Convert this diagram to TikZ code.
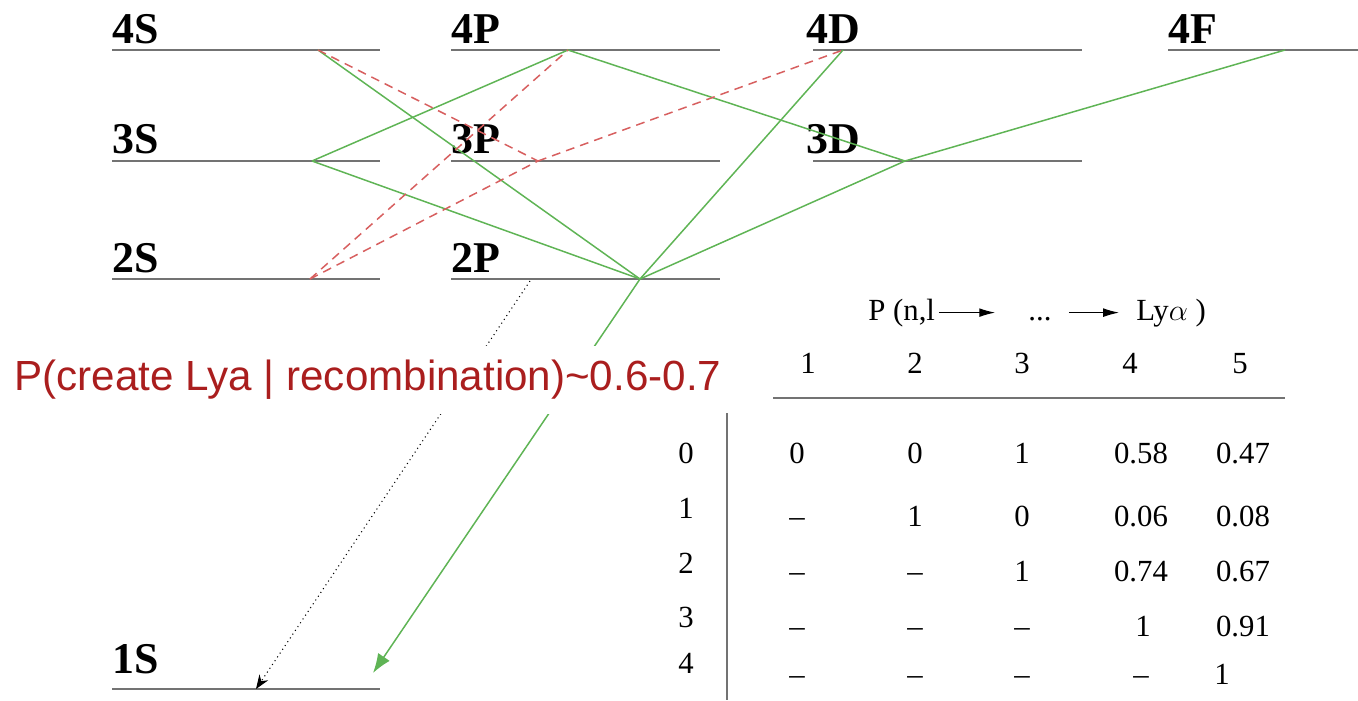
\documentclass[tikz,border=0pt]{standalone}
\usepackage{fontspec}
\setmainfont{Liberation Serif}
\newfontfamily\notefont{Liberation Sans}
\usetikzlibrary{arrows}
\usetikzlibrary{arrows.meta}
\definecolor{trgreen}{RGB}{95,180,85}
\definecolor{trred}{RGB}{215,95,95}
\definecolor{notered}{RGB}{170,30,30}
\definecolor{lvlgray}{RGB}{115,115,115}

\begin{document}
\begin{tikzpicture}[x=0.02cm,y=-0.02cm]
\tikzstyle{lvl}=[draw=lvlgray,line width=0.8pt]
\tikzstyle{term}=[font=\fontsize{25}{25}\selectfont\bfseries,anchor=base west,inner sep=0pt]
\tikzstyle{allowed}=[draw=trgreen,line width=0.85pt]
\tikzstyle{forbidden}=[draw=trred,line width=0.85pt,dash pattern=on 5pt off 3.5pt]
\tikzstyle{cell}=[font=\fontsize{17.5}{17.5}\selectfont,anchor=base,inner sep=0pt]
\useasboundingbox (0,0) rectangle (1358,700);

% energy levels
\draw[lvl] (112,50) -- (380,50);
\draw[lvl] (451,50) -- (720,50);
\draw[lvl] (813,50) -- (1082,50);
\draw[lvl] (1168,50) -- (1358,50);
\draw[lvl] (112,161) -- (380,161);
\draw[lvl] (451,161) -- (720,161);
\draw[lvl] (813,161) -- (1082,161);
\draw[lvl] (112,279) -- (380,279);
\draw[lvl] (451,279) -- (720,279);
\draw[lvl] (112,689) -- (380,689);

\node[term] (l4s) at (112,43) {4S};
\node[term] (l4p) at (451,43) {4P};
\node[term] (l4d) at (806,43) {4D};
\node[term] (l4f) at (1168,43) {4F};
\node[term] (l3s) at (112,153) {3S};
\node[term] (l3p) at (451,153) {3P};
\node[term] (l3d) at (806,153) {3D};
\node[term] (l2s) at (112,272) {2S};
\node[term] (l2p) at (451,272) {2P};
\node[term] (l1s) at (112,673) {1S};

\coordinate (s4) at (318,50);
\coordinate (p4) at (568,50);
\coordinate (d4) at (843,50);
\coordinate (f4) at (1285,50);
\coordinate (s3) at (312,161);
\coordinate (p3) at (538,161);
\coordinate (d3) at (905,161);
\coordinate (s2) at (310,279);
\coordinate (p2) at (640,279);
\coordinate (p2b) at (530,281);
\coordinate (s1a) at (256,689);
\coordinate (s1b) at (373,673);

% cascades
\draw[allowed] (s4) -- (p2);
\draw[allowed] (s3) -- (p4);
\draw[allowed] (s3) -- (p2);
\draw[allowed] (p4) -- (d3);
\draw[allowed] (d4) -- (p2);
\draw[allowed] (p2) -- (d3);
\draw[allowed] (d3) -- (f4);
\draw[forbidden] (s4) -- (p3);
\draw[forbidden] (s2) -- (p4);
\draw[forbidden] (s2) -- (p3);
\draw[forbidden] (p3) -- (d4);
\draw[allowed,arrows={-Latex[length=11pt,width=8pt]},fill=trgreen] (p2) -- (s1b);
\draw[dotted,line width=0.6pt,arrows={-Stealth[length=8pt,width=6pt]}] (p2b) -- (s1a);

\node[fill=white,text=notered,font=\notefont\fontsize{24}{24}\selectfont,
  minimum width=14.5cm,minimum height=1.35cm,inner sep=0pt] (note) at (368,380)
  {P(create Lya | recombination)\textasciitilde 0.6-0.7};

% table
\node[cell,anchor=base west] (tp) at (868,320) {P (n,l};
\node[cell] (tdots) at (1040,320) {...};
\node[cell,anchor=base west] (tly) at (1136,320) {Ly$\alpha$ )};
\draw[arrows={-Latex[length=9pt,width=5pt]},line width=0.6pt,shorten <=2pt,shorten >=0.66cm] (tp.east) -- (tp.east -| tdots.west);
\draw[arrows={-Latex[length=9pt,width=5pt]},line width=0.6pt,shorten <=0.34cm,shorten >=0.34cm] (tp.east -| tdots.east) -- (tp.east -| tly.west);

\node[cell] (h1) at (808,373) {1};
\node[cell] (h2) at (915,373) {2};
\node[cell] (h3) at (1022,373) {3};
\node[cell] (h4) at (1130,373) {4};
\node[cell] (h5) at (1240,373) {5};
\draw[draw=lvlgray,line width=0.8pt] (773,398) -- (1285,398);
\draw[draw=lvlgray,line width=0.8pt] (727,413) -- (727,700);

\node[cell] (r0) at (686,463) {0};
\node[cell] (r1) at (686,518) {1};
\node[cell] (r2) at (686,573) {2};
\node[cell] (r3) at (686,627) {3};
\node[cell] (r4) at (686,673) {4};

\node[cell] (c01) at (797,463) {0};
\node[cell] (c02) at (915,463) {0};
\node[cell] (c03) at (1022,463) {1};
\node[cell] (c04) at (1141,463) {0.58};
\node[cell] (c05) at (1243,463) {0.47};
\node[cell] (c11) at (797,526) {--};
\node[cell] (c12) at (915,526) {1};
\node[cell] (c13) at (1022,526) {0};
\node[cell] (c14) at (1141,526) {0.06};
\node[cell] (c15) at (1243,526) {0.08};
\node[cell] (c21) at (797,581) {--};
\node[cell] (c22) at (915,581) {--};
\node[cell] (c23) at (1022,581) {1};
\node[cell] (c24) at (1141,581) {0.74};
\node[cell] (c25) at (1243,581) {0.67};
\node[cell] (c31) at (797,636) {--};
\node[cell] (c32) at (915,636) {--};
\node[cell] (c33) at (1022,636) {--};
\node[cell] (c34) at (1143,636) {1};
\node[cell] (c35) at (1243,636) {0.91};
\node[cell] (c41) at (797,684) {--};
\node[cell] (c42) at (915,684) {--};
\node[cell] (c43) at (1022,684) {--};
\node[cell] (c44) at (1141,684) {--};
\node[cell] (c45) at (1222,684) {1};
\end{tikzpicture}
\end{document}
